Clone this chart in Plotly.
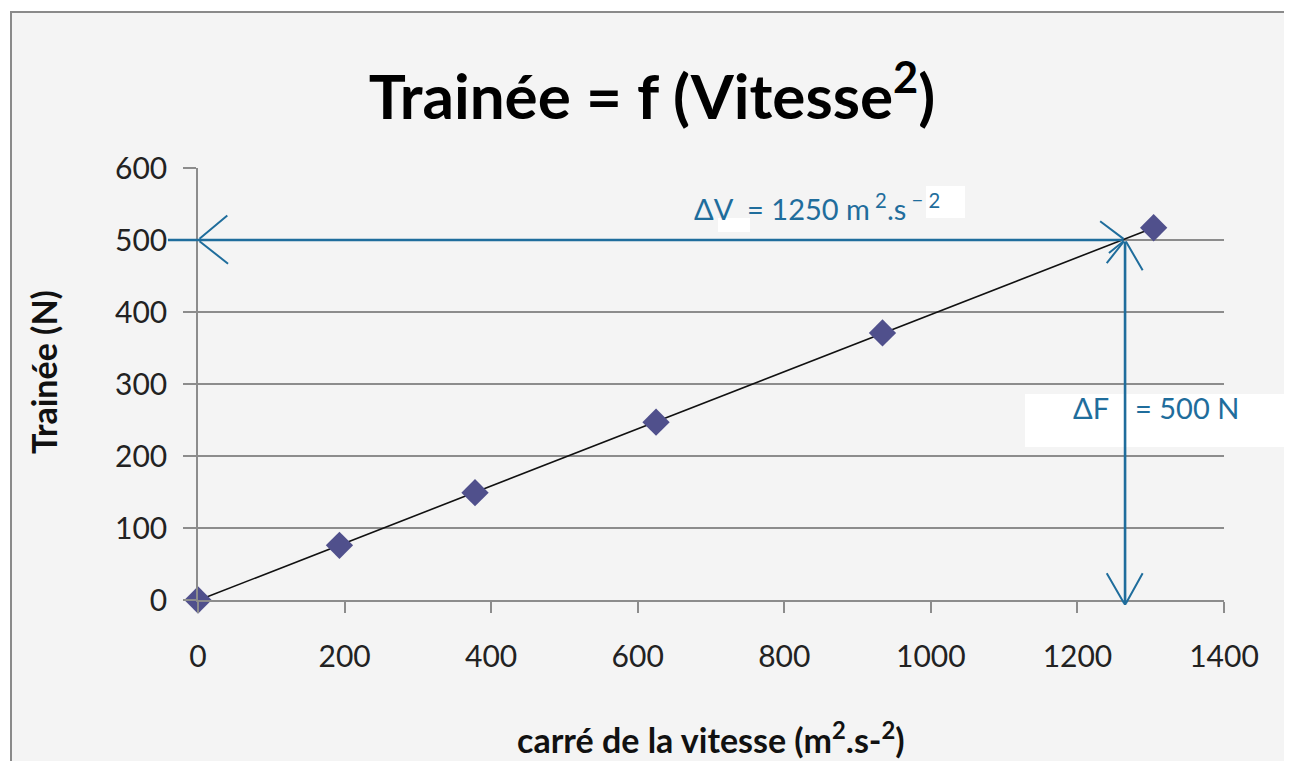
import numpy as np
import plotly.graph_objects as go

# ---- data ----
vitesse_carre = [0, 193, 378, 625, 934, 1304]      # m².s-²
trainee = [0, 76, 149, 247, 371, 517]              # N

x_ticks = [0, 200, 400, 600, 800, 1000, 1200, 1400]
y_ticks = [0, 100, 200, 300, 400, 500, 600]

# graphical reading construction (data units)
read_x = 1265      # V² where the reading line meets the trend
read_y = 500       # F read on the axis
lead_x = -41       # horizontal line extends left of the axis
foot_y = -7        # vertical arrow tip, just below the axis

title_txt = "<b>Trainée = f (Vitesse<sup>2</sup>)</b>"
xtitle_txt = "<b>carré de la vitesse (m<sup>2</sup>.s-<sup>2</sup>)</b>"
ytitle_txt = "<b>Trainée (N)</b>"
dv_txt = "ΔV  = 1250 m<sup> 2</sup>.s<sup> − 2</sup>"
df_a_txt = "ΔF"
df_b_txt = "= 500 N"

ARROW = "#1f6d9c"
GRID = "#8c8c8c"

OFF = 8                      # page body margin
PAGE_W, PAGE_H = 1292, 769
W, H = PAGE_W - 2 * OFF, PAGE_H - 2 * OFF
L, T = 198 - OFF, 168 - OFF
PW, PH = 1026, 432
R, B = W - L - PW, H - T - PH


def px_x(p):  # page pixel x -> paper fraction
    return (p - OFF - L) / PW


def px_y(p):  # page pixel y -> paper fraction
    return (OFF + T + PH - p) / PH


fig = go.Figure()

# trend line (least squares)
slope, icpt = np.polyfit(vitesse_carre, trainee, 1)
xs = np.array([min(vitesse_carre), max(vitesse_carre)])
fig.add_trace(go.Scatter(x=xs, y=slope * xs + icpt, mode="lines",
                         line=dict(color="#111111", width=1.6),
                         hoverinfo="skip", showlegend=False))

fig.add_trace(go.Scatter(x=vitesse_carre, y=trainee, mode="markers",
                         marker=dict(symbol="diamond", size=21, color="#50508c",
                                     line=dict(width=0)),
                         cliponaxis=False, showlegend=False))

annotations = []


def seg(x0, y0, x1, y1, w=2.6):
    annotations.append(dict(x=x1, y=y1, ax=x0, ay=y0, xref="x", yref="y",
                            axref="x", ayref="y", text="", showarrow=True,
                            arrowhead=0, arrowwidth=w, arrowcolor=ARROW,
                            standoff=0, startstandoff=0))


# horizontal reading line and heads
seg(read_x, read_y, lead_x, read_y)
seg(0, read_y, 40, read_y + 34, 2)
seg(0, read_y, 41, read_y - 33, 2)
seg(read_x, read_y, read_x - 34, read_y + 26, 2)
seg(read_x, read_y, read_x - 22, read_y - 18, 2)
# vertical reading line and heads
seg(read_x, read_y, read_x, foot_y)
seg(read_x, read_y, read_x - 25, read_y - 32, 2)
seg(read_x, read_y, read_x + 24, read_y - 42, 2)
seg(read_x, foot_y, read_x - 25, foot_y + 44, 2)
seg(read_x, foot_y, read_x + 24, foot_y + 44, 2)

lbl_font = dict(family="Lato", size=29, color=ARROW)
annotations += [
    dict(x=845, y=546, xref="x", yref="y", text=dv_txt, showarrow=False,
         font=lbl_font, xanchor="center", yanchor="middle"),
    dict(x=1218, y=268, xref="x", yref="y", text=df_a_txt, showarrow=False,
         font=lbl_font, xanchor="center", yanchor="middle"),
    dict(x=1350, y=268, xref="x", yref="y", text=df_b_txt, showarrow=False,
         font=lbl_font, xanchor="center", yanchor="middle"),
    dict(x=0.5, y=px_y(738), xref="paper", yref="paper", text=xtitle_txt,
         showarrow=False, font=dict(family="Lato", size=34, color="#111111"),
         xanchor="center", yanchor="middle"),
    dict(x=px_x(43), y=px_y(372), xref="paper", yref="paper", text=ytitle_txt,
         showarrow=False, textangle=-90,
         font=dict(family="Lato", size=34, color="#111111"),
         xanchor="center", yanchor="middle"),
]

shapes = [
    # chart area frame
    dict(type="rect", xref="paper", yref="paper", layer="below",
         x0=px_x(11), x1=px_x(1310), y0=px_y(12), y1=px_y(790),
         fillcolor="#f4f4f4", line=dict(color="#8a8a8a", width=2)),
    # white patches behind labels
    dict(type="rect", xref="paper", yref="paper", layer="below",
         x0=px_x(1025), x1=px_x(1300), y0=px_y(447), y1=px_y(394),
         fillcolor="#ffffff", line=dict(width=0)),
    dict(type="rect", xref="paper", yref="paper", layer="below",
         x0=px_x(718), x1=px_x(750), y0=px_y(232), y1=px_y(218),
         fillcolor="#ffffff", line=dict(width=0)),
    dict(type="rect", xref="paper", yref="paper", layer="below",
         x0=px_x(926), x1=px_x(965), y0=px_y(218), y1=px_y(186),
         fillcolor="#ffffff", line=dict(width=0)),
]

fig.update_layout(
    width=W, height=H,
    margin=dict(l=L, r=R, t=T, b=B, pad=0),
    paper_bgcolor="#ffffff", plot_bgcolor="rgba(0,0,0,0)",
    title=dict(text=title_txt, x=(652 - OFF) / W, y=1 - (97 - OFF) / H,
               xref="container", yref="container", xanchor="center",
               yanchor="middle",
               font=dict(family="Lato", size=62, color="#000000")),
    xaxis=dict(range=[0, 1400], tickvals=x_ticks, showgrid=False,
               zeroline=False, showline=True, linecolor=GRID, linewidth=1.5,
               ticks="outside", ticklen=11, tickwidth=1.5, tickcolor=GRID,
               tickfont=dict(family="Lato", size=30, color="#222222"),
               ticklabelstandoff=18, fixedrange=True),
    yaxis=dict(range=[0, 600], tickvals=y_ticks, showgrid=True,
               gridcolor=GRID, gridwidth=1.5, zeroline=False, showline=True,
               linecolor=GRID, linewidth=1.5, ticks="outside", ticklen=13,
               tickwidth=1.5, tickcolor=GRID,
               tickfont=dict(family="Lato", size=30, color="#222222"),
               ticklabelstandoff=10, fixedrange=True),
    annotations=annotations,
    shapes=shapes,
    showlegend=False,
)

fig.write_html("out.html")
